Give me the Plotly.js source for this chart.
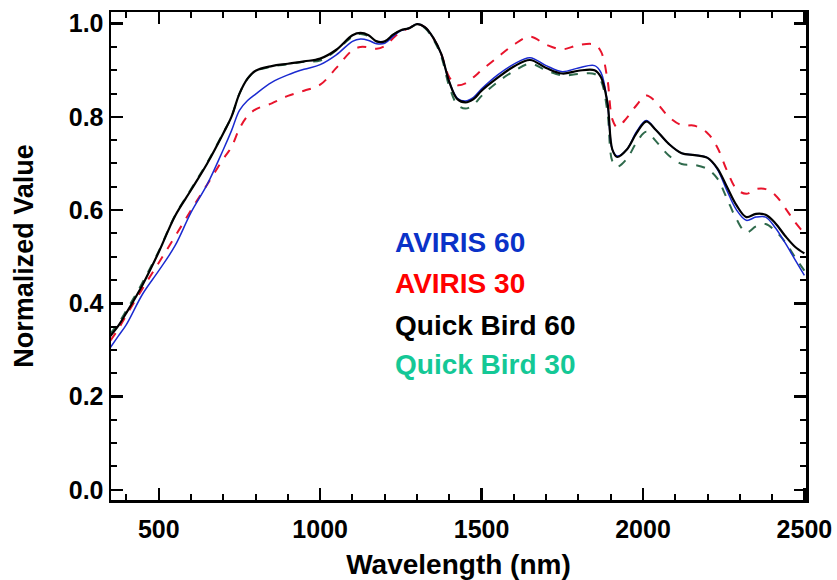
<!DOCTYPE html>
<html>
<head>
<meta charset="utf-8">
<script src="https://cdn.plot.ly/plotly-3.0.1.min.js"></script>
<style>html,body{margin:0;padding:0;background:#fff;}#chart{width:837px;height:580px;}</style>
</head>
<body>
<div id="chart"></div>
<script>
var wavelength = [350,375,400,450,500,550,600,650,700,725,750,775,800,850,900,950,1000,1050,1100,1125,1150,1175,1200,1225,1250,1275,1300,1325,1350,1375,1400,1425,1450,1475,1500,1550,1600,1650,1700,1750,1800,1850,1870,1890,1905,1920,1950,1980,2010,2040,2080,2120,2160,2200,2230,2260,2290,2320,2350,2380,2410,2440,2470,2500];

var aviris60 = [0.305,0.33,0.355,0.42,0.47,0.523,0.595,0.655,0.73,0.77,0.814,0.835,0.849,0.874,0.89,0.902,0.912,0.933,0.962,0.967,0.964,0.957,0.958,0.972,0.985,0.99,0.999,0.992,0.97,0.935,0.875,0.84,0.834,0.842,0.86,0.89,0.913,0.927,0.91,0.897,0.905,0.91,0.895,0.83,0.73,0.716,0.73,0.768,0.792,0.772,0.742,0.722,0.718,0.712,0.688,0.642,0.6,0.578,0.585,0.585,0.562,0.53,0.495,0.46];

var aviris30 = [0.32,0.345,0.375,0.432,0.487,0.543,0.6,0.655,0.71,0.735,0.775,0.802,0.816,0.829,0.845,0.856,0.869,0.905,0.943,0.95,0.949,0.946,0.952,0.968,0.983,0.99,0.999,0.992,0.97,0.935,0.885,0.868,0.872,0.885,0.9,0.928,0.955,0.972,0.955,0.945,0.954,0.955,0.94,0.88,0.795,0.778,0.798,0.825,0.846,0.832,0.8,0.782,0.781,0.765,0.735,0.685,0.645,0.635,0.645,0.645,0.632,0.605,0.575,0.55];

var quickbird60 = [0.33,0.352,0.38,0.44,0.51,0.587,0.643,0.7,0.765,0.8,0.85,0.882,0.899,0.909,0.914,0.919,0.925,0.944,0.975,0.98,0.975,0.962,0.962,0.976,0.986,0.99,0.999,0.992,0.97,0.935,0.875,0.838,0.831,0.838,0.856,0.884,0.908,0.922,0.905,0.893,0.899,0.9,0.885,0.83,0.73,0.714,0.73,0.765,0.79,0.772,0.742,0.722,0.718,0.712,0.69,0.65,0.61,0.585,0.592,0.59,0.572,0.545,0.522,0.507];

var quickbird30 = [0.335,0.357,0.385,0.445,0.512,0.588,0.645,0.702,0.766,0.8,0.85,0.882,0.898,0.908,0.913,0.918,0.921,0.943,0.972,0.978,0.973,0.962,0.961,0.976,0.985,0.99,0.998,0.99,0.967,0.93,0.865,0.826,0.818,0.826,0.845,0.875,0.898,0.914,0.9,0.889,0.892,0.892,0.877,0.81,0.705,0.693,0.71,0.745,0.768,0.748,0.717,0.699,0.697,0.688,0.668,0.625,0.58,0.552,0.565,0.57,0.555,0.532,0.5,0.47];

var seriesNames = ["AVIRIS 60","AVIRIS 30","Quick Bird 60","Quick Bird 30"];
var legendColors = ["#0a32c8","#ff0000","#000000","#14c896"];
var legendY = [0.531,0.443,0.353,0.268];

var FONT = "Liberation Sans, Arial, Helvetica, sans-serif";

var traces = [
  {x: wavelength, y: aviris30, mode:"lines", line:{color:"#e8142c", width:2, dash:"dash", shape:"spline"}, name: seriesNames[1]},
  {x: wavelength, y: quickbird30, mode:"lines", line:{color:"#2f6a4c", width:2, dash:"dash", shape:"spline"}, name: seriesNames[3]},
  {x: wavelength, y: aviris60, mode:"lines", line:{color:"#1a2ad0", width:1.5, shape:"spline"}, name: seriesNames[0]},
  {x: wavelength, y: quickbird60, mode:"lines", line:{color:"#000000", width:2.2, shape:"spline"}, name: seriesNames[2]}
];

var annotations = seriesNames.map(function(n,i){
  return {x:1225, y:legendY[i], xref:"x", yref:"y", text:n, showarrow:false, xanchor:"left", yanchor:"middle",
          font:{family:FONT, size:28, color:legendColors[i], weight:"bold"}};
});

var layout = {
  width:837, height:580,
  margin:{l:111, r:31, t:12, b:80},
  paper_bgcolor:"#fff", plot_bgcolor:"rgba(0,0,0,0)",
  showlegend:false,
  xaxis:{
    range:[352,2505], showgrid:false, zeroline:false,
    showline:true, linecolor:"#000", linewidth:2.5, mirror:"ticks",
    ticks:"inside", ticklen:12, tickwidth:2.5, tickcolor:"#000",
    tickmode:"linear", tick0:0, dtick:500,
    minor:{dtick:100, tick0:0, ticks:"inside", ticklen:6, tickwidth:2, tickcolor:"#000", showgrid:false},
    tickfont:{family:FONT, size:25, color:"#000", weight:"bold"},
    ticklabelstandoff:5,
    title:{text:"Wavelength (nm)", font:{family:FONT, size:28, color:"#000", weight:"bold"}, standoff:18}
  },
  yaxis:{
    range:[-0.022,1.025], showgrid:false, zeroline:false,
    showline:true, linecolor:"#000", linewidth:2.5, mirror:"ticks",
    ticks:"inside", ticklen:12, tickwidth:2.5, tickcolor:"#000",
    tickmode:"linear", tick0:0, dtick:0.2, tickformat:".1f",
    minor:{dtick:0.05, tick0:0, ticks:"inside", ticklen:6, tickwidth:2, tickcolor:"#000", showgrid:false},
    tickfont:{family:FONT, size:25, color:"#000", weight:"bold"},
    title:{text:"Normalized Value", font:{family:FONT, size:27, color:"#000", weight:"bold"}, standoff:28}
  },
  annotations: annotations
};

Plotly.newPlot("chart", traces, layout, {staticPlot:true, displayModeBar:false});
</script>
</body>
</html>
